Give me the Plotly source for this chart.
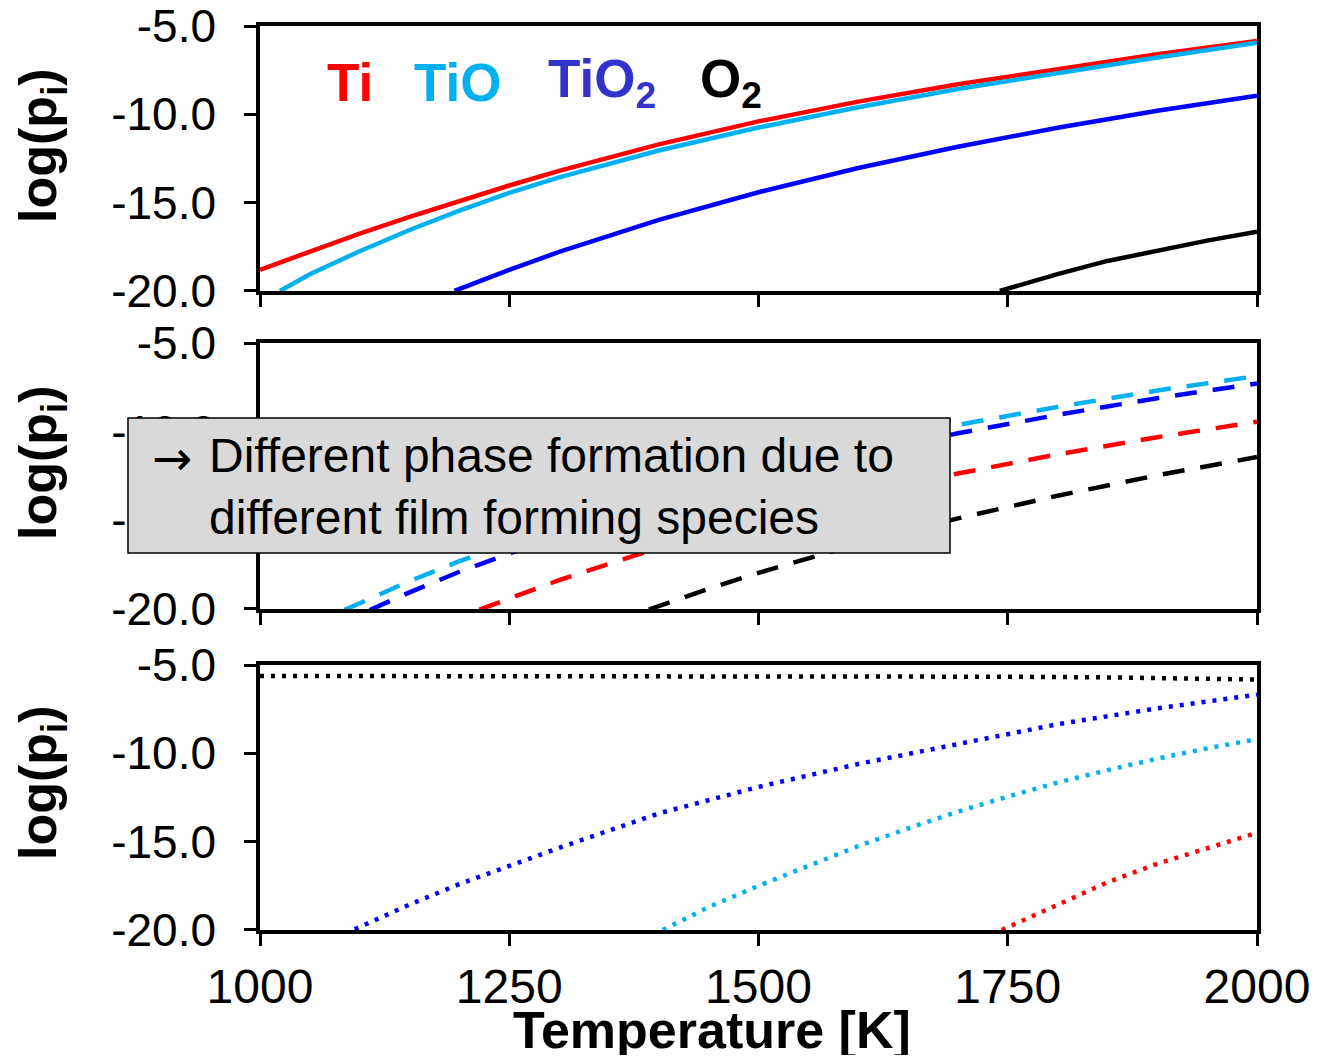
import plotly.graph_objects as go
from plotly.subplots import make_subplots

# ---------------- data ----------------
# Panel 1 (solid)
T_ti_1 = [1000, 1050, 1100, 1150, 1200, 1250, 1300, 1400, 1500, 1600, 1700, 1800, 1900, 2000]
y_ti_1 = [-18.8, -17.75, -16.75, -15.8, -14.9, -14.03, -13.2, -11.7, -10.4, -9.28, -8.3, -7.42, -6.6, -5.85]
T_tio_1 = [1020, 1050, 1100, 1150, 1200, 1250, 1300, 1400, 1500, 1600, 1700, 1800, 1900, 2000]
y_tio_1 = [-20.0, -19.05, -17.75, -16.55, -15.45, -14.45, -13.57, -12.05, -10.75, -9.6, -8.57, -7.65, -6.78, -5.95]
T_tio2_1 = [1195, 1250, 1300, 1400, 1500, 1600, 1700, 1800, 1900, 2000]
y_tio2_1 = [-20.0, -18.8, -17.79, -15.98, -14.41, -13.04, -11.84, -10.76, -9.8, -8.94]
T_o2_1 = [1742, 1800, 1850, 1900, 1950, 2000]
y_o2_1 = [-20.0, -19.05, -18.3, -17.7, -17.15, -16.65]

# Panel 2 (dashed)
T_ti_2 = [1220, 1250, 1300, 1400, 1500, 1600, 1700, 1800, 1900, 2000]
y_ti_2 = [-20.04, -19.39, -18.37, -16.54, -14.96, -13.58, -12.36, -11.28, -10.31, -9.44]
T_tio_2 = [1085, 1100, 1150, 1200, 1300, 1400, 1500, 1600, 1700, 1800, 1900, 2000]
y_tio_2 = [-20.05, -19.67, -18.43, -17.3, -15.29, -13.57, -12.08, -10.78, -9.62, -8.6, -7.68, -6.86]
T_tio2_2 = [1110, 1150, 1200, 1300, 1400, 1500, 1600, 1700, 1800, 1900, 2000]
y_tio2_2 = [-20.06, -19.06, -17.9, -15.86, -14.11, -12.59, -11.26, -10.09, -9.05, -8.11, -7.28]
T_o2_2 = [1390, 1450, 1500, 1600, 1700, 1800, 1900, 2000]
y_o2_2 = [-20.03, -18.86, -17.96, -16.33, -14.89, -13.61, -12.46, -11.43]

# Panel 3 (dotted)
T_ti_3 = [1744, 1800, 1850, 1900, 1950, 2000]
y_ti_3 = [-20.0, -18.55, -17.3, -16.25, -15.35, -14.5]
T_tio_3 = [1404, 1450, 1500, 1550, 1600, 1650, 1700, 1750, 1800, 1850, 1900, 1950, 2000]
y_tio_3 = [-20.0, -18.7, -17.5, -16.35, -15.25, -14.25, -13.3, -12.45, -11.65, -10.95, -10.3, -9.72, -9.2]
T_tio2_3 = [1095, 1100, 1150, 1200, 1300, 1400, 1500, 1600, 1700, 1800, 1900, 2000]
y_tio2_3 = [-19.96, -19.83, -18.56, -17.4, -15.35, -13.4, -11.9, -10.6, -9.45, -8.35, -7.45, -6.68]
T_o2_3 = [1000, 1250, 1500, 1750, 1850, 1950, 2000]
y_o2_3 = [-5.62, -5.62, -5.63, -5.66, -5.7, -5.77, -5.82]

x_ticks = [1000, 1250, 1500, 1750, 2000]
y_ticks = [-20, -15, -10, -5]
y_ticktext = ["-20.0", "-15.0", "-10.0", "-5.0"]

species = ["Ti", "TiO", "TiO<sub>2</sub>", "O<sub>2</sub>"]
label_colors = ["#ff0000", "#00b0f0", "#3333cc", "#000000"]
line_colors = ["#ff0000", "#00b0f0", "#0000ff", "#000000"]

box_line1 = "Different phase formation due to"
box_line2 = "different film forming species"

# ---------------- figure ----------------
FONT = "Arial, Liberation Sans, sans-serif"
fig = make_subplots(rows=3, cols=1, shared_xaxes=False, vertical_spacing=0.0)

panels = [
    ([T_ti_1, T_tio_1, T_tio2_1, T_o2_1], [y_ti_1, y_tio_1, y_tio2_1, y_o2_1], "solid", 4.5),
    ([T_ti_2, T_tio_2, T_tio2_2, T_o2_2], [y_ti_2, y_tio_2, y_tio2_2, y_o2_2], "22px,16px", 4.5),
    ([T_ti_3, T_tio_3, T_tio2_3, T_o2_3], [y_ti_3, y_tio_3, y_tio2_3, y_o2_3], "4px,7px", 4.5),
]
for r, (xs, ys, dash, w) in enumerate(panels, start=1):
    for xv, yv, c in zip(xs, ys, line_colors):
        fig.add_trace(go.Scatter(x=xv, y=yv, mode="lines", showlegend=False,
                                 line=dict(color=c, width=w, dash=dash)), row=r, col=1)

domains = [[0.7069, 1.0], [0.3551, 0.6493], [0.0, 0.2931]]
for i, d in enumerate(domains, start=1):
    sfx = "" if i == 1 else str(i)
    fig.layout["xaxis" + sfx].update(
        domain=[0, 1], range=[1000, 2000], tickvals=x_ticks, automargin=False,
        ticks="outside", ticklen=12, tickwidth=3, tickcolor="black",
        showline=True, linewidth=3.5, linecolor="black", mirror=True,
        showgrid=False, zeroline=False, showticklabels=(i == 3),
        ticklabeloverflow="allow",
        tickfont=dict(family=FONT, size=48, color="black"), ticklabelstandoff=0)
    fig.layout["yaxis" + sfx].update(
        domain=d, range=[-20, -5], tickvals=y_ticks, ticktext=y_ticktext, automargin=False,
        ticks="outside", ticklen=12, tickwidth=3, tickcolor="black",
        showline=True, linewidth=3.5, linecolor="black", mirror=True,
        showgrid=False, zeroline=False, ticklabeloverflow="allow",
        tickfont=dict(family=FONT, size=46, color="black"), ticklabelstandoff=19)

ann = []
# y titles
for yc in [0.8684, 0.5177, 0.1637]:
    ann.append(dict(x=-0.2187, y=yc, xref="paper", yref="paper", text="log(p<sub>i</sub>)",
                    textangle=-90, showarrow=False, xanchor="center", yanchor="middle",
                    font=dict(family=FONT, size=52, color="black", weight="bold")))
# x title
ann.append(dict(x=0.4534, y=-0.1110, xref="paper", yref="paper", text="Temperature [K]",
                showarrow=False, xanchor="center", yanchor="middle",
                font=dict(family=FONT, size=52, color="black", weight="bold")))
# species labels
for xp, txt, col in zip([0.0652, 0.1525, 0.2869, 0.4393], species, label_colors):
    ann.append(dict(x=xp, y=0.937, xref="paper", yref="paper", text=txt, showarrow=False,
                    xanchor="left", yanchor="middle",
                    font=dict(family=FONT, size=53, color=col, weight="bold")))
# box text
ann.append(dict(x=(150 - 260) / 997, y=(930 - 458) / 904, xref="paper", yref="paper", text="→",
                showarrow=False, xanchor="left", yanchor="middle",
                font=dict(family="DejaVu Sans", size=48, color="black")))
ann.append(dict(x=(207 - 260) / 997, y=(930 - 486) / 904, xref="paper", yref="paper",
                text=box_line1 + "<br>" + box_line2, showarrow=False, align="left",
                xanchor="left", yanchor="middle", font=dict(family=FONT, size=48, color="black")))

# the page has an 8px body margin, so the figure is offset to land on the reference pixels
fig.update_layout(
    width=1309, height=1047, margin=dict(l=252, r=60, t=18, b=125),
    paper_bgcolor="white", plot_bgcolor="white", annotations=ann,
    shapes=[dict(type="rect", xref="paper", yref="paper", x0=-0.1324, x1=0.6921,
                 y0=0.4170, y1=0.5664, fillcolor="#d9d9d9",
                 line=dict(color="black", width=1.5), layer="above")],
)

fig.write_html("out.html")
